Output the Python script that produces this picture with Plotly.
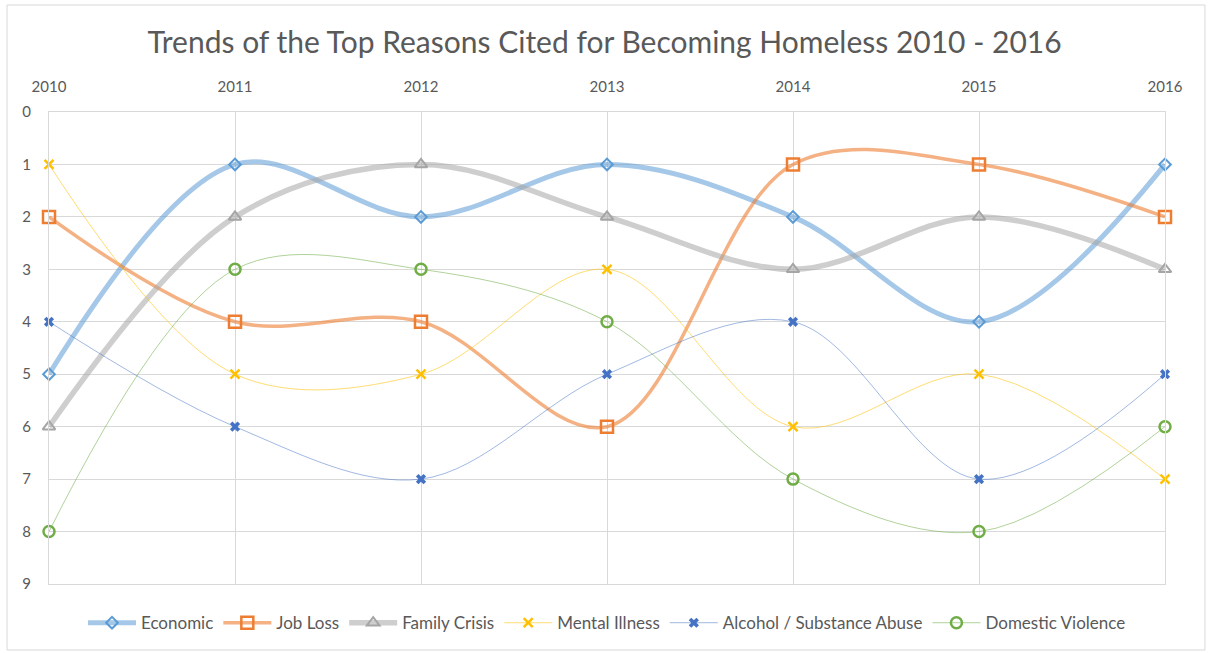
import plotly.graph_objects as go

years = [2010, 2011, 2012, 2013, 2014, 2015, 2016]
economic = [5, 1, 2, 1, 2, 4, 1]
job_loss = [2, 4, 4, 6, 1, 1, 2]
family_crisis = [6, 2, 1, 2, 3, 2, 3]
mental_illness = [1, 5, 5, 3, 6, 5, 7]
alcohol_abuse = [4, 6, 7, 5, 4, 7, 5]
domestic_violence = [8, 3, 3, 4, 7, 8, 6]
rank_ticks = list(range(0, 10))

series = [
    ("Economic", economic, "rgba(91,155,213,0.55)", 5, "#5B9BD5", "diamond-open", 9, 2),
    ("Job Loss", job_loss, "rgba(237,125,49,0.6)", 3.5, "#ED7D31", "square-open", 12, 2.5),
    ("Family Crisis", family_crisis, "rgba(165,165,165,0.55)", 5.5, "#A5A5A5", "triangle-up-open", 11, 2),
    ("Mental Illness", mental_illness, "rgba(255,192,0,0.55)", 1, "#FFC000", "x-thin-open", 9, 2.5),
    ("Alcohol / Substance Abuse", alcohol_abuse, "rgba(68,114,196,0.5)", 1, "#4472C4", "x", 9, 0),
    ("Domestic Violence", domestic_violence, "rgba(112,173,71,0.55)", 1, "#70AD47", "circle-open", 11, 2.5),
]

fig = go.Figure()
for name, vals, lcol, lw, mcol, sym, msz, mlw in series:
    fig.add_trace(go.Scatter(
        x=years, y=vals, name=name, mode="lines+markers",
        line=dict(color=lcol, width=lw, shape="spline", smoothing=1.0),
        marker=dict(symbol=sym, size=msz, color=mcol,
                    line=dict(color=mcol, width=mlw)),
        cliponaxis=False,
    ))

grid = "#D9D9D9"
label_font = dict(family="Lato, Open Sans, sans-serif", size=15, color="#595959")

fig.update_layout(
    width=1209, height=653,
    margin=dict(l=49, r=44, t=112, b=69),
    paper_bgcolor="white", plot_bgcolor="white",
    title=dict(
        text="Trends of the Top Reasons Cited for Becoming Homeless 2010 - 2016",
        x=0.5, xanchor="center", y=0.935, yanchor="middle",
        font=dict(family="Lato, Open Sans, sans-serif", size=30, color="#595959"),
    ),
    xaxis=dict(
        side="top", range=[2010, 2016], tickvals=years, ticktext=[str(y) for y in years],
        showgrid=True, gridcolor=grid, gridwidth=1, zeroline=False,
        showline=True, linecolor=grid, mirror=True, ticks="",
        tickfont=label_font, ticklabelstandoff=13,
    ),
    yaxis=dict(
        range=[9, 0], tickvals=rank_ticks, showgrid=True, gridcolor=grid, gridwidth=1,
        zeroline=False, showline=True, linecolor=grid, mirror=True, ticks="",
        tickfont=label_font, ticklabelstandoff=14,
    ),
    legend=dict(
        orientation="h", x=0.5, xanchor="center", y=-0.083, yanchor="middle",
        font=dict(family="Lato, Open Sans, sans-serif", size=17, color="#595959"),
        itemwidth=48, tracegroupgap=0,
    ),
    showlegend=True,
)

# outer chart frame
fig.add_shape(type="rect", xref="paper", yref="paper",
              x0=-0.0376, x1=1.0358, y0=-0.1398, y1=1.2267,
              line=dict(color="#D9D9D9", width=1), fillcolor="rgba(0,0,0,0)", layer="below")

fig.write_html("out.html")
